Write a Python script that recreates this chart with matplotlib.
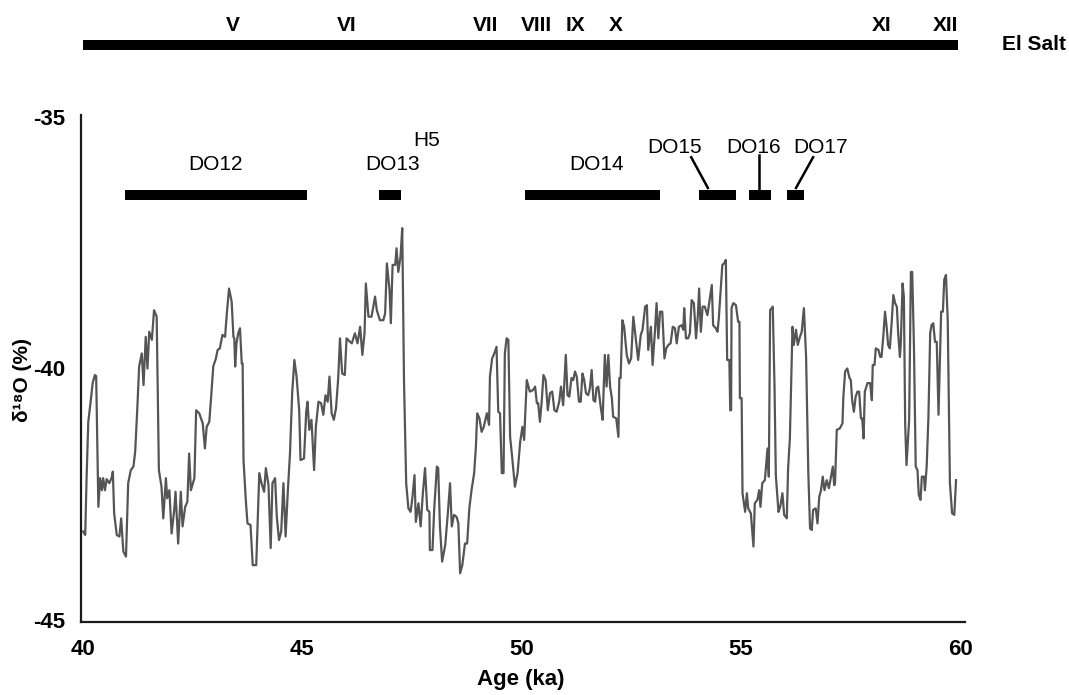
import matplotlib
matplotlib.use('Agg')
import matplotlib.pyplot as plt

plt.rcParams['font.family'] = ['Liberation Sans', 'DejaVu Sans']
plt.rcParams['axes.unicode_minus'] = False

# NGRIP-style d18O record (age in ka, d18O)
age = [40.00, 40.05, 40.08, 40.12, 40.17, 40.22, 40.27, 40.30, 40.35, 40.39,
       40.43, 40.46, 40.50, 40.54, 40.60, 40.65, 40.68, 40.71, 40.77, 40.83,
       40.87, 40.92, 40.98, 41.03, 41.09, 41.15, 41.19, 41.24, 41.28, 41.34,
       41.38, 41.43, 41.47, 41.51, 41.57, 41.62, 41.68, 41.73, 41.79, 41.83,
       41.89, 41.92, 41.97, 42.02, 42.08, 42.11, 42.17, 42.23, 42.27, 42.33,
       42.38, 42.42, 42.46, 42.54, 42.58, 42.65, 42.73, 42.78, 42.82, 42.88,
       42.92, 42.97, 43.03, 43.07, 43.12, 43.18, 43.24, 43.28, 43.33,
       43.39, 43.43, 43.45, 43.47, 43.50, 43.54, 43.58, 43.62, 43.64, 43.66,
       43.71, 43.75, 43.82, 43.87, 43.95, 43.98, 44.02, 44.07, 44.13, 44.17,
       44.23, 44.28, 44.32, 44.38, 44.42, 44.47, 44.52, 44.57, 44.62, 44.67,
       44.72, 44.77, 44.82, 44.87, 44.93, 44.96, 45.04, 45.09, 45.12, 45.16,
       45.21, 45.27, 45.31, 45.37, 45.43, 45.48, 45.53, 45.58, 45.62, 45.67,
       45.72, 45.77, 45.82, 45.86, 45.91, 45.97, 46.01, 46.09, 46.13, 46.20,
       46.26, 46.32, 46.37, 46.42, 46.45, 46.51, 46.58, 46.66, 46.70,
       46.77, 46.85, 46.89, 46.93, 46.99, 47.02, 47.06, 47.12, 47.15, 47.19,
       47.24, 47.28, 47.32, 47.37, 47.42, 47.47, 47.51, 47.56, 47.59, 47.65,
       47.70, 47.75, 47.80, 47.85, 47.90, 47.91, 47.97, 48.01, 48.07, 48.10,
       48.14, 48.19, 48.26, 48.32, 48.37, 48.41, 48.46, 48.52, 48.56, 48.60,
       48.65, 48.71, 48.76, 48.81, 48.86, 48.92, 48.96, 48.99, 49.04, 49.09,
       49.14, 49.21, 49.26, 49.28, 49.33, 49.38, 49.43, 49.47, 49.51, 49.55,
       49.59, 49.62, 49.66, 49.70, 49.74, 49.79, 49.85, 49.91, 49.97, 50.02,
       50.06, 50.12,
       50.19, 50.26, 50.31, 50.35, 50.38, 50.42, 50.46, 50.50, 50.55, 50.60,
       50.65, 50.70, 50.75, 50.80, 50.86, 50.90, 50.95, 51.01, 51.05, 51.09,
       51.14, 51.18, 51.22, 51.26, 51.31, 51.35, 51.39, 51.43, 51.47, 51.52,
       51.56, 51.60, 51.64, 51.68, 51.71, 51.75, 51.81, 51.85, 51.90, 51.94,
       51.98, 52.02, 52.06, 52.09, 52.16, 52.21, 52.23, 52.26, 52.30, 52.34,
       52.40, 52.45, 52.50, 52.55, 52.60, 52.66, 52.72, 52.76, 52.82, 52.86,
       52.89, 52.95, 52.99, 53.04, 53.08, 53.12, 53.16, 53.21, 53.26, 53.30,
       53.35, 53.40, 53.45, 53.50, 53.54, 53.59,
       53.65, 53.69, 53.71, 53.75, 53.80, 53.84, 53.88, 53.93, 53.98, 54.02,
       54.05, 54.09, 54.13, 54.18, 54.24, 54.28, 54.34, 54.37, 54.43, 54.47,
       54.50, 54.54, 54.58, 54.62, 54.66, 54.69, 54.74, 54.76, 54.78, 54.79,
       54.83, 54.89, 54.94, 54.97, 54.98, 55.02, 55.04, 55.10, 55.14, 55.17,
       55.23, 55.29, 55.32, 55.38, 55.42, 55.45, 55.49, 55.55, 55.61, 55.64,
       55.67, 55.73, 55.77, 55.80, 55.86, 55.90, 55.95, 55.99, 56.05, 56.08,
       56.12, 56.18, 56.21, 56.26, 56.30, 56.35, 56.39, 56.44, 56.49, 56.54,
       56.58, 56.62, 56.65, 56.71, 56.75, 56.79, 56.83, 56.87, 56.91, 56.96,
       57.01,
       57.10, 57.13, 57.15, 57.19, 57.26, 57.32, 57.34, 57.38, 57.43, 57.48,
       57.51, 57.54, 57.58, 57.62, 57.66, 57.70, 57.74, 57.77, 57.80, 57.83,
       57.89, 57.95, 57.99, 58.01, 58.05, 58.08, 58.14, 58.18, 58.21, 58.25,
       58.29, 58.33, 58.36, 58.40, 58.44, 58.48, 58.52, 58.56, 58.59, 58.63,
       58.65, 58.69, 58.72, 58.75, 58.78, 58.84, 58.88, 58.91, 58.95, 58.99,
       59.03, 59.06, 59.10, 59.13, 59.18, 59.20, 59.24, 59.28, 59.32, 59.35,
       59.39, 59.43, 59.47, 59.51, 59.53, 59.57, 59.61, 59.64, 59.68, 59.72,
       59.77, 59.82, 59.87, 59.91]

d18o = [-43.24, -43.31, -42.22, -41.06, -40.69, -40.29, -40.13, -40.15, -42.75, -42.18,
        -42.42, -42.18, -42.42, -42.20, -42.28, -42.18, -42.05, -42.88, -43.31, -43.34,
        -42.98, -43.64, -43.74, -42.28, -42.02, -41.95, -41.65, -40.76, -39.96, -39.70,
        -40.33, -39.37, -40.00, -39.27, -39.43, -38.84, -38.97, -42.02, -42.35, -42.98,
        -42.18, -42.58, -42.42, -43.28, -42.81, -42.45, -43.48, -42.45, -43.14, -42.75,
        -42.65, -41.69, -42.42, -42.18, -40.83, -40.89, -41.09, -41.59, -41.16, -41.06,
        -40.59, -39.96, -39.80, -39.63, -39.60, -39.33, -39.37, -38.90, -38.41,
        -38.67, -39.37, -39.40, -39.96, -39.50, -39.30, -39.20, -39.90, -39.90, -41.82,
        -42.58, -43.08, -43.11, -43.91, -43.91, -43.11, -42.08, -42.28, -42.45, -41.98,
        -42.32, -43.57, -42.28, -42.18, -42.95, -43.41, -43.24, -42.28, -43.34, -42.45,
        -41.69, -40.49, -39.83, -40.16, -40.83, -41.82, -41.79, -40.86, -40.66, -41.22,
        -41.02, -42.02, -41.16, -40.66, -40.69, -40.92, -40.53, -40.66, -40.16, -40.89,
        -41.02, -40.79, -40.19, -39.40, -40.10, -40.13, -39.40, -39.47, -39.50, -39.30,
        -39.50, -39.17, -39.73, -39.30, -38.31, -38.97, -38.97, -38.57, -38.84,
        -39.04, -39.04, -38.90, -37.91, -38.44, -39.10, -37.94, -37.94, -37.61, -38.08,
        -37.78, -37.21, -40.23, -42.28, -42.78, -42.85, -42.58, -42.12, -43.05, -42.68,
        -43.14, -42.48, -41.98, -42.81, -42.85, -43.61, -43.61, -42.78, -41.95, -41.98,
        -43.14, -43.84, -43.51, -42.88, -42.28, -43.14, -42.91, -42.95, -43.08, -44.07,
        -43.91, -43.48, -43.48, -42.78, -42.42, -42.08, -41.55, -40.89, -40.99, -41.26,
        -41.16, -40.89, -41.12, -40.16, -39.80, -39.70, -39.57, -40.86, -40.89, -42.08,
        -42.08, -39.70, -39.40, -39.43, -41.36, -41.79, -42.35, -42.08, -41.46, -41.16,
        -41.42, -40.23,
        -40.46, -40.43, -40.36, -40.69, -40.69, -41.06, -40.66, -40.13, -40.23, -40.83,
        -40.49, -40.46, -40.83, -40.86, -40.66, -40.36, -40.73, -39.73, -40.53, -40.56,
        -40.19, -40.23, -40.06, -40.16, -40.66, -40.66, -40.10, -40.23, -40.49, -40.53,
        -40.39, -40.03, -40.63, -40.66, -40.39, -40.36, -40.79, -41.02, -39.73, -40.36,
        -39.73, -40.36, -40.59, -40.96, -40.99, -41.36, -40.19, -40.19, -39.04, -39.17,
        -39.73, -39.90, -39.80, -38.97, -39.37, -39.83, -39.33, -39.23, -38.77, -38.74,
        -39.63, -39.17, -39.93, -39.30, -38.70, -39.40, -38.87, -38.87, -39.80, -39.60,
        -39.53, -39.50, -39.17, -39.20, -39.50, -39.17,
        -39.14, -39.23, -38.80, -39.40, -39.40, -39.30, -38.64, -38.70, -39.40, -38.97,
        -38.41, -39.27, -38.77, -38.77, -38.94, -38.70, -38.34, -39.14, -39.20, -39.27,
        -39.00, -38.47, -37.94, -37.91, -37.84, -39.83, -39.83, -40.83, -40.83, -38.80,
        -38.70, -38.74, -39.07, -39.07, -40.59, -40.59, -42.48, -42.85, -42.48, -42.78,
        -42.88, -43.54, -42.68, -42.61, -42.42, -42.75, -42.28, -42.22, -41.59, -42.15,
        -38.84, -38.77, -40.36, -42.12, -42.85, -42.75, -42.48, -42.91, -42.98, -41.98,
        -41.39, -39.17, -39.53, -39.23, -39.53, -39.37, -39.27, -38.80, -39.77, -42.05,
        -43.18, -43.21, -42.81, -42.78, -43.08, -42.55, -42.42, -42.15, -42.42, -42.22,
        -42.38,
        -41.95, -42.32, -42.28, -41.22, -41.19, -41.09, -40.56, -40.06, -40.00, -40.19,
        -40.23, -40.63, -40.86, -40.56, -40.46, -40.46, -40.99, -40.99, -41.39, -40.46,
        -40.29, -40.29, -40.63, -39.93, -39.93, -39.60, -39.63, -39.77, -39.77, -39.37,
        -38.87, -39.20, -39.53, -39.60, -39.10, -38.54, -38.70, -38.77, -39.30, -39.77,
        -39.50, -38.31, -38.57, -41.12, -41.92, -41.02, -38.08, -38.08, -39.57, -41.95,
        -42.02, -42.51, -42.61, -42.15, -42.15, -42.42, -41.95, -40.96, -39.30, -39.14,
        -39.10, -39.47, -39.47, -40.92, -40.23, -38.87, -38.87, -38.24, -38.14, -39.04,
        -42.28, -42.88, -42.91, -42.22]

# Dansgaard-Oeschger interstadials (ka)
do_names = ['DO12', 'DO13', 'DO14', 'DO15', 'DO16', 'DO17']
do_start = [40.96, 46.76, 50.08, 54.05, 55.19, 56.06]
do_end = [45.11, 47.26, 53.16, 54.89, 55.68, 56.44]

# El Salt stratigraphic units (ka)
unit_names = ['V', 'VI', 'VII', 'VIII', 'IX', 'X', 'XI', 'XII']
unit_age = [43.42, 46.02, 49.19, 50.33, 51.24, 52.16, 58.22, 59.67]

fig = plt.figure(figsize=(10.69, 6.95), dpi=100)
ax = fig.add_axes([81 / 1069, 73 / 695, 884 / 1069, 507 / 695])

ax.plot(age, d18o, color='#555555', lw=1.6, zorder=3)

ax.set_xlim(39.954, 60.114)
ax.set_ylim(-45.04, -34.96)
ax.set_xticks([40, 45, 50, 55, 60])
ax.set_yticks([-45, -40, -35])
ax.tick_params(length=0, labelsize=16)
ax.tick_params(axis='x', pad=12)
ax.tick_params(axis='y', pad=11)
for lab in ax.get_xticklabels() + ax.get_yticklabels():
    lab.set_fontweight('bold')

for s in ['top', 'right']:
    ax.spines[s].set_visible(False)
for s in ['left', 'bottom']:
    ax.spines[s].set_linewidth(1.6)
    ax.spines[s].set_color('#1a1a1a')

fig.text(521 / 1069, 1 - 680 / 695, 'Age (ka)', ha='center', va='center',
         fontsize=16, fontweight='bold')
fig.text(22 / 1069, 1 - 380 / 695, 'δ¹⁸O (%)', rotation=90, ha='center',
         va='center', fontsize=15, fontweight='bold')

# DO bars and labels
bar_y = -36.56
for s, e in zip(do_start, do_end):
    ax.plot([s, e], [bar_y, bar_y], color='black', lw=7.2,
            solid_capstyle='butt', clip_on=False)

label_x = [43.03, 47.07, 51.72, 53.50, 55.29, 56.81]
label_y = [-35.95, -35.95, -35.95, -35.60, -35.60, -35.60]
for name, x, y in zip(do_names, label_x, label_y):
    ax.text(x, y, name, ha='center', va='center', fontsize=15)
ax.text(47.84, -35.46, 'H5', ha='center', va='center', fontsize=15)

# leader lines for DO15-17
ax.plot([53.87, 54.25], [-35.80, -36.41], color='black', lw=1.8)
ax.plot([55.42, 55.42], [-35.76, -36.45], color='black', lw=1.8)
ax.plot([56.65, 56.26], [-35.80, -36.41], color='black', lw=1.8)

# El Salt bar on top
ax.plot([40.0, 59.95], [-33.56, -33.56], color='black', lw=7.2,
        solid_capstyle='butt', clip_on=False)
for name, x in zip(unit_names, unit_age):
    ax.text(x, -33.19, name, ha='center', va='center', fontsize=15,
            fontweight='bold', clip_on=False)
ax.text(60.95, -33.56, 'El Salt', ha='left', va='center', fontsize=15,
        fontweight='bold', clip_on=False)

fig.savefig('out.png', dpi=100)
